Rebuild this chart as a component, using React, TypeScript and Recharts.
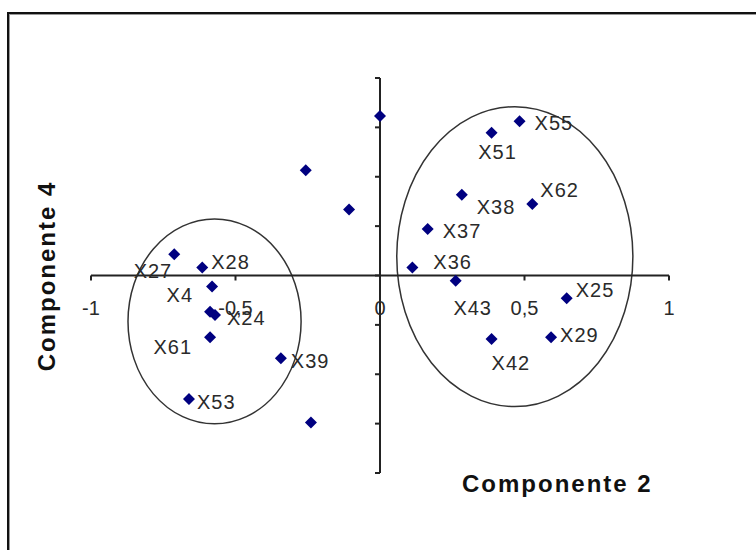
import React from 'react';
import { ScatterChart, Scatter, XAxis, YAxis, ReferenceLine, ReferenceArea } from 'recharts';

// ---- data ----
const names = ['', '', '', 'X27', 'X28', 'X4', '', 'X24', 'X61', 'X39', 'X53', '', 'X51', 'X55', 'X38', 'X62', 'X37', 'X36', 'X43', 'X25', 'X42', 'X29'];
const xValues = [0.0, -0.257, -0.107, -0.712, -0.615, -0.581, -0.588, -0.571, -0.588, -0.343, -0.661, -0.239, 0.386, 0.483, 0.283, 0.527, 0.165, 0.112, 0.262, 0.646, 0.386, 0.592];
const yValues = [0.646, 0.426, 0.267, 0.086, 0.032, -0.045, -0.147, -0.16, -0.25, -0.335, -0.5, -0.595, 0.578, 0.625, 0.327, 0.29, 0.188, 0.032, -0.021, -0.092, -0.257, -0.25];
const xTicks = [-1, -0.5, 0, 0.5, 1];
const xTickLabels = ['-1', '-0,5', '0', '0,5', '1'];
const yTicks = [-0.8, -0.6, -0.4, -0.2, 0, 0.2, 0.4, 0.6, 0.8];
// cluster ellipses (bounding boxes in data units)
const leftCluster = { x1: -0.872, x2: -0.273, y1: -0.601, y2: 0.229 };
const rightCluster = { x1: 0.058, x2: 0.875, y1: -0.531, y2: 0.684 };

const xAxisTitle = 'Componente 2';
const yAxisTitle = 'Componente 4';

const points = names.map((n, i) => ({ name: n, x: xValues[i], y: yValues[i] }));

// ---- layout / styles ----
const W = 756;
const H = 550;
const XAXIS_H = 30;
const YAXIS_W = 60;
const PLOT = { top: 78, right: 87, bottom: 77, left: 91 };
const M = { top: PLOT.top, right: PLOT.right, bottom: PLOT.bottom - XAXIS_H, left: PLOT.left - YAXIS_W };
const plotW = W - PLOT.left - PLOT.right;
const plotH = H - PLOT.top - PLOT.bottom;
const X0 = PLOT.left + plotW / 2;
const Y0 = PLOT.top + plotH / 2;
const AXIS = '#222';
const FONT = 'Arial, "Liberation Sans", sans-serif';

const labelPlacement: Record<string, [number, number, string]> = {
  X55: [15, 2, 'start'],
  X51: [6, 19, 'middle'],
  X62: [8, -14, 'start'],
  X38: [15, 12, 'start'],
  X37: [15, 2, 'start'],
  X36: [21, -6, 'start'],
  X43: [17, 27, 'middle'],
  X25: [9, -8, 'start'],
  X29: [9, -2, 'start'],
  X42: [0, 24, 'start'],
  X27: [-2, 17, 'end'],
  X28: [9, -6, 'start'],
  X4: [-19, 8, 'end'],
  X24: [12, 3, 'start'],
  X61: [-18, 10, 'end'],
  X39: [10, 3, 'start'],
  X53: [8, 3, 'start'],
};

const DiamondPoint = (props: any) => {
  const { cx, cy, payload } = props;
  const r = 6;
  const place = payload && payload.name ? labelPlacement[payload.name] : undefined;
  return (
    <g>
      <polygon
        points={`${cx},${cy - r} ${cx + r},${cy} ${cx},${cy + r} ${cx - r},${cy}`}
        fill="#000080"
      />
      {place ? (
        <text
          x={cx + place[0]}
          y={cy + place[1]}
          textAnchor={place[2] as any}
          dominantBaseline="central"
          fontFamily={FONT}
          fontSize={20}
          letterSpacing={1}
          fill="#2a2a2a"
        >
          {payload.name}
        </text>
      ) : null}
    </g>
  );
};

const renderXTick = (props: any) => {
  const { x, payload } = props;
  const idx = xTicks.indexOf(payload.value);
  return (
    <g>
      <line x1={x} y1={Y0} x2={x} y2={Y0 + 5} stroke={AXIS} strokeWidth={2} />
      <text x={x} y={Y0 + 32} textAnchor="middle" dominantBaseline="central" fontFamily={FONT} fontSize={20} fill="#2a2a2a">
        {idx >= 0 ? xTickLabels[idx] : ''}
      </text>
    </g>
  );
};

const renderYTick = (props: any) => {
  const { y } = props;
  return <line x1={X0 - 5} y1={y} x2={X0} y2={y} stroke={AXIS} strokeWidth={2} />;
};

const Ellipse = (props: any) => {
  const { x, y, width, height } = props;
  return (
    <ellipse
      cx={x + width / 2}
      cy={y + height / 2}
      rx={width / 2}
      ry={height / 2}
      fill="none"
      stroke="#333"
      strokeWidth={1.5}
    />
  );
};

export default function App() {
  return (
    <div style={{ position: 'absolute', left: 0, top: 0, width: W, height: H, overflow: 'hidden', background: '#fff' }}>
      <div
        style={{
          position: 'absolute',
          left: 7,
          top: 12,
          width: 800,
          height: 600,
          borderLeft: '2px solid #111',
          borderTop: '2px solid #111',
          boxShadow: 'inset 1px 1px 0 #999',
        }}
      />
      <div style={{ position: 'absolute', left: 0, top: 0 }}>
        <ScatterChart width={W} height={H} margin={M}>
          <XAxis
            type="number"
            dataKey="x"
            domain={[-1, 1]}
            ticks={xTicks}
            interval={0}
            height={XAXIS_H}
            axisLine={false}
            tickLine={false}
            tick={renderXTick}
            allowDataOverflow
          />
          <YAxis
            type="number"
            dataKey="y"
            domain={[-0.8, 0.8]}
            ticks={yTicks}
            interval={0}
            width={YAXIS_W}
            axisLine={false}
            tickLine={false}
            tick={renderYTick}
            allowDataOverflow
          />
          <ReferenceLine y={0} stroke={AXIS} strokeWidth={2} />
          <ReferenceLine x={0} stroke={AXIS} strokeWidth={2} />
          <ReferenceArea
            x1={leftCluster.x1}
            x2={leftCluster.x2}
            y1={leftCluster.y1}
            y2={leftCluster.y2}
            shape={<Ellipse />}
            ifOverflow="visible"
          />
          <ReferenceArea
            x1={rightCluster.x1}
            x2={rightCluster.x2}
            y1={rightCluster.y1}
            y2={rightCluster.y2}
            shape={<Ellipse />}
            ifOverflow="visible"
          />
          <Scatter data={points} shape={<DiamondPoint />} isAnimationActive={false} />
        </ScatterChart>
      </div>
      <div
        style={{
          position: 'absolute',
          left: 462,
          top: 470,
          fontFamily: FONT,
          fontWeight: 'bold',
          fontSize: 24,
          letterSpacing: 2,
          color: '#111',
          whiteSpace: 'nowrap',
        }}
      >
        {xAxisTitle}
      </div>
      <div
        style={{
          position: 'absolute',
          left: 47,
          top: 276,
          transform: 'translate(-50%, -50%) rotate(-90deg)',
          fontFamily: FONT,
          fontWeight: 'bold',
          fontSize: 24,
          letterSpacing: 2,
          color: '#111',
          whiteSpace: 'nowrap',
        }}
      >
        {yAxisTitle}
      </div>
    </div>
  );
}
